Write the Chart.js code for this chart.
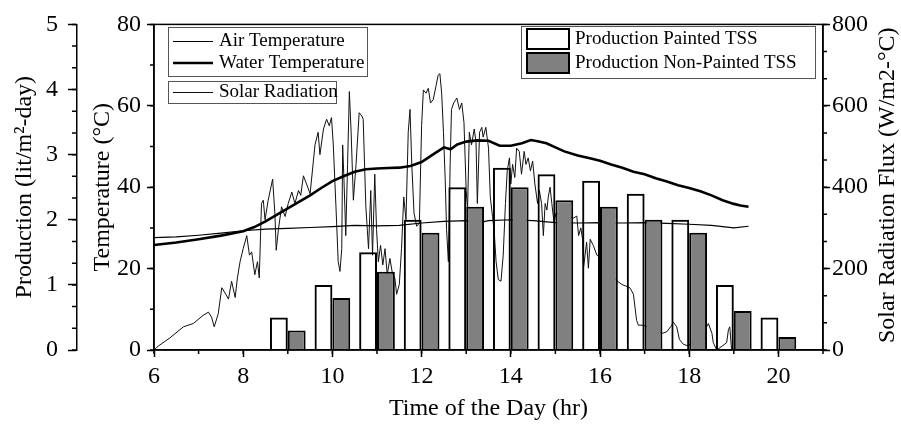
<!DOCTYPE html>
<html>
<head>
<meta charset="utf-8">
<script src="https://cdn.jsdelivr.net/npm/chart.js@4.4.1/dist/chart.umd.min.js"></script>
<style>
  html, body { margin: 0; padding: 0; background: #fff; }
</style>
</head>
<body>
<canvas id="grafico" width="901" height="427"></canvas>
<script>
// production bars (lit/m2-day), one pair per hour
const barHours = [9, 10, 11, 12, 13, 14, 15, 16, 17, 18, 19, 20];
const paintedTSS = [0.5, 1.0, 1.5, 2.0, 2.5, 2.8, 2.7, 2.6, 2.4, 2.0, 1.0, 0.5];
const nonPaintedTSS = [0.3, 0.8, 1.2, 1.8, 2.2, 2.5, 2.3, 2.2, 2.0, 1.8, 0.6, 0.2];

// temperatures (C)
const airHours = [6.0, 6.5, 7.0, 7.5, 8.0, 8.5, 9.0, 9.5, 10.0, 10.5, 11.0, 11.5, 12.0, 12.5, 13.0, 13.25,
  13.5, 14.0, 14.5, 15.0, 15.5, 16.0, 16.5, 17.0, 17.5, 18.0, 18.5, 19.0, 19.33];
const airTemp = [27.6, 27.8, 28.2, 28.7, 29.3, 29.7, 29.9, 30.1, 30.3, 30.6, 30.5, 30.6, 31.2, 31.6, 31.8, 31.2,
  31.8, 32.0, 31.8, 31.3, 31.2, 31.3, 31.2, 31.3, 31.1, 30.9, 30.6, 30.0, 30.4];

const waterHours = [6.0, 6.5, 7.0, 7.5, 8.0, 8.25, 8.5, 8.75, 9.0, 9.25, 9.5, 9.75, 10.0, 10.25, 10.5, 10.75,
  11.0, 11.25, 11.5, 11.75, 12.0, 12.25, 12.5, 12.65, 12.8, 13.0, 13.25, 13.5, 13.75, 14.0, 14.25, 14.45,
  14.6, 14.8, 15.0, 15.2, 15.5, 15.75, 16.0, 16.25, 16.5, 16.75, 17.0, 17.25, 17.5, 17.75, 18.0, 18.25,
  18.5, 18.75, 19.0, 19.15, 19.33];
const waterTemp = [25.8, 26.4, 27.2, 28.1, 29.2, 30.2, 31.6, 33.2, 34.8, 36.4, 38.0, 39.8, 41.5, 42.7, 43.8, 44.4,
  44.6, 44.7, 44.8, 45.2, 46.2, 48.0, 49.8, 49.3, 50.5, 51.2, 51.5, 51.4, 50.2, 50.2, 50.8, 51.6,
  51.3, 50.8, 49.8, 48.8, 47.8, 47.2, 46.5, 45.6, 44.8, 43.8, 43.2, 42.2, 41.4, 40.5, 39.8, 39.0,
  38.0, 36.8, 35.9, 35.5, 35.2];

// solar radiation flux
const solarHours = [6.0, 6.1, 6.36, 6.66, 6.88, 7.1, 7.22, 7.29, 7.35, 7.44, 7.52, 7.61, 7.67, 7.74, 7.82, 7.87,
  7.93, 8.0, 8.08, 8.14, 8.19, 8.26, 8.32, 8.36, 8.41, 8.45, 8.49, 8.56, 8.66, 8.71, 8.74, 8.79,
  8.86, 8.94, 9.01, 9.09, 9.16, 9.24, 9.29, 9.35, 9.42, 9.5, 9.61, 9.68, 9.72, 9.8, 9.87, 9.93,
  9.98, 10.02, 10.08, 10.13, 10.17, 10.21, 10.23, 10.26, 10.3, 10.34, 10.38, 10.42, 10.47, 10.53, 10.6, 10.66,
  10.69, 10.75, 10.81, 10.86, 10.9, 10.95, 10.99, 11.03, 11.08, 11.13, 11.18, 11.23, 11.29, 11.35, 11.4, 11.44,
  11.5, 11.55, 11.6, 11.65, 11.7, 11.74, 11.78, 11.83, 11.89, 11.95, 12.0, 12.04, 12.1, 12.15, 12.2, 12.26,
  12.32, 12.37, 12.41, 12.45, 12.49, 12.53, 12.56, 12.6, 12.64, 12.67, 12.72, 12.79, 12.85, 12.9, 12.95, 13.0,
  13.03, 13.07, 13.12, 13.18, 13.22, 13.25, 13.3, 13.35, 13.38, 13.44, 13.5, 13.54, 13.59, 13.63, 13.67, 13.72,
  13.78, 13.83, 13.88, 13.92, 13.97, 14.0, 14.04, 14.09, 14.13, 14.19, 14.24, 14.3, 14.34, 14.39, 14.44, 14.49,
  14.54, 14.6, 14.64, 14.69, 14.73, 14.77, 14.81, 14.84, 14.88, 14.92, 14.97, 15.01, 15.4, 15.48, 15.52, 15.57,
  15.61, 15.63, 15.7, 15.74, 15.78, 15.85, 15.93, 15.98, 16.39, 16.49, 16.67, 16.75, 16.82, 16.86, 16.97, 17.4,
  17.5, 17.61, 17.64, 17.72, 17.78, 17.87, 17.98, 18.39, 18.43, 18.51, 18.54, 18.62, 18.84, 18.88, 18.91, 18.95];
const solarFlux = [0, 10, 30, 57, 65, 85, 93, 81, 57, 89, 153, 137, 125, 169, 129, 177,
  217, 249, 281, 233, 241, 185, 217, 177, 360, 368, 320, 368, 420, 336, 245, 296,
  352, 328, 360, 388, 360, 392, 380, 428, 408, 384, 504, 535, 480, 543, 567, 551,
  571, 504, 352, 217, 193, 249, 504, 416, 281, 456, 635, 535, 368, 456, 583, 575,
  567, 352, 249, 392, 233, 432, 296, 217, 257, 209, 249, 185, 225, 185, 177, 137,
  161, 249, 376, 320, 535, 591, 456, 336, 304, 312, 551, 639, 631, 643, 607, 615,
  647, 675, 679, 631, 535, 416, 296, 217, 456, 591, 607, 619, 591, 607, 559, 392,
  344, 535, 504, 543, 511, 360, 535, 547, 523, 547, 496, 376, 328, 288, 217, 173,
  169, 233, 360, 440, 472, 408, 456, 424, 496, 488, 432, 488, 456, 472, 440, 464,
  408, 360, 392, 360, 281, 360, 344, 376, 400, 360, 312, 336, 324, 329, 281, 300,
  272, 201, 265, 201, 272, 257, 233, 229, 169, 161, 153, 137, 73, 61, 61, 41,
  45, 61, 69, 57, 26, 14, 10, 57, 65, 41, 18, 0, 18, 50, 57, 0];

// axis tick labels
const hourTicks = [6, 8, 10, 12, 14, 16, 18, 20];
const tempTicks = [0, 20, 40, 60, 80];
const prodTicks = [0, 1, 2, 3, 4, 5];
const solarTicks = [0, 200, 400, 600, 800];

const FONT = "'Liberation Serif', 'Times New Roman', serif";
Chart.defaults.font.family = FONT;
Chart.defaults.color = '#000';

const pts = (xs, ys) => xs.map((x, i) => ({ x: x, y: ys[i] }));
const fixTicks = list => s => { s.ticks = list.map(v => ({ value: v })); };

// short minor ticks between the labelled ones
const minorTicks = {
  id: 'minorTicks',
  afterDraw(chart) {
    const ctx = chart.ctx;
    const spec = [['x', 1, 4], ['yT', 10, 4], ['yP', 1 / 3, 5], ['yS', 200 / 3, 4]];
    ctx.save();
    ctx.strokeStyle = '#000';
    ctx.lineWidth = 1.5;
    spec.forEach(([id, step, len]) => {
      const s = chart.scales[id];
      const n = Math.round((s.max - s.min) / step);
      ctx.beginPath();
      for (let i = 0; i <= n; i++) {
        const p = s.getPixelForValue(s.min + i * step);
        if (s.isHorizontal()) { ctx.moveTo(p, s.top); ctx.lineTo(p, s.top + len); }
        else if (s.position === 'left') { ctx.moveTo(s.right, p); ctx.lineTo(s.right - len, p); }
        else { ctx.moveTo(s.left, p); ctx.lineTo(s.left + len, p); }
      }
      ctx.stroke();
    });
    const a = chart.chartArea;
    ctx.strokeRect(a.left, a.top, a.right - a.left, a.bottom - a.top);
    ctx.restore();
  }
};

// the three framed legends and the right axis title
const boxLegends = {
  id: 'boxLegends',
  afterDraw(chart) {
    const ctx = chart.ctx;
    const ds = chart.data.datasets;
    ctx.save();
    const frame = (x, y, w, h) => {
      ctx.fillStyle = '#fff';
      ctx.fillRect(x, y, w, h);
      ctx.strokeStyle = '#555';
      ctx.lineWidth = 1;
      ctx.strokeRect(x + 0.5, y + 0.5, w, h);
    };
    const label = (t, x, y) => {
      ctx.font = '19px ' + FONT;
      ctx.textAlign = 'left';
      ctx.textBaseline = 'middle';
      ctx.fillStyle = '#000';
      ctx.fillText(t, x, y);
    };
    const lineRow = (d, x, y) => {
      ctx.strokeStyle = d.borderColor;
      ctx.lineWidth = d.borderWidth;
      ctx.beginPath();
      ctx.moveTo(x, y);
      ctx.lineTo(x + 40, y);
      ctx.stroke();
      label(d.label, x + 46, y);
    };
    const boxRow = (d, x, y) => {
      ctx.fillStyle = d.backgroundColor;
      ctx.fillRect(x, y - 10, 42, 20);
      ctx.strokeStyle = '#000';
      ctx.lineWidth = 2;
      ctx.strokeRect(x, y - 10, 42, 20);
      label(d.label, x + 48, y);
    };
    frame(168, 27, 199, 49);
    lineRow(ds[0], 173, 41.5);
    lineRow(ds[1], 173, 63);
    frame(168, 81, 168, 22);
    lineRow(ds[2], 173, 92.5);
    frame(521, 26, 294, 52);
    boxRow({ backgroundColor: '#fff', label: ds[3].label }, 527, 39);
    boxRow(ds[4], 527, 63);

    const s = chart.scales.yS;
    ctx.translate(s.right - 13, (s.top + s.bottom) / 2 - 2);
    ctx.rotate(-Math.PI / 2);
    ctx.font = '24px ' + FONT;
    ctx.textAlign = 'center';
    ctx.textBaseline = 'middle';
    ctx.fillStyle = '#000';
    ctx.fillText('Solar Radiation Flux (W/m2-\u00B0C)', 0, 0);
    ctx.restore();
  }
};

const tickFont = { family: FONT, size: 24 };
const axisGrid = len => ({ drawOnChartArea: false, tickLength: len, tickColor: '#000', tickWidth: 1.5 });
const axisBorder = { color: '#000', width: 1.5 };

new Chart(document.getElementById('grafico'), {
  type: 'line',
  data: {
    datasets: [
      { type: 'line', label: 'Air Temperature', data: pts(airHours, airTemp), yAxisID: 'yT',
        borderColor: '#000', borderWidth: 1.2, pointRadius: 0, tension: 0, order: 1 },
      { type: 'line', label: 'Water Temperature', data: pts(waterHours, waterTemp), yAxisID: 'yT',
        borderColor: '#000', borderWidth: 2.6, pointRadius: 0, tension: 0, order: 1 },
      { type: 'line', label: 'Solar Radiation', data: pts(solarHours, solarFlux), yAxisID: 'yS',
        borderColor: '#111', borderWidth: 1, pointRadius: 0, tension: 0, order: 1 },
      { type: 'bar', label: 'Production Painted TSS', data: pts(barHours, paintedTSS), yAxisID: 'yP',
        backgroundColor: 'rgba(255,255,255,0)', borderColor: '#000', borderWidth: 2,
        categoryPercentage: 0.8, barPercentage: 1.0, order: 0 },
      { type: 'bar', label: 'Production Non-Painted TSS', data: pts(barHours, nonPaintedTSS), yAxisID: 'yP',
        backgroundColor: '#808080', borderColor: '#000', borderWidth: 2,
        categoryPercentage: 0.8, barPercentage: 1.0, order: 0 }
    ]
  },
  options: {
    responsive: false,
    animation: false,
    devicePixelRatio: 1,
    layout: { padding: { top: 16, left: 0, right: 0, bottom: 0 } },
    plugins: { legend: { display: false }, tooltip: { enabled: false } },
    scales: {
      x: {
        type: 'linear', position: 'bottom', min: 6, max: 21, offset: false,
        afterBuildTicks: fixTicks(hourTicks),
        afterFit: s => { s.height = 77; },
        ticks: { font: tickFont, color: '#000', padding: 5, maxRotation: 0, autoSkip: false },
        grid: Object.assign(axisGrid(7), { offset: false }),
        border: axisBorder,
        title: { display: true, text: 'Time of the Day (hr)', font: tickFont, color: '#000',
          padding: { top: 0, bottom: 4 } }
      },
      yT: {
        type: 'linear', position: 'left', min: 0, max: 80, weight: 0,
        afterBuildTicks: fixTicks(tempTicks),
        afterFit: s => { s.width = 77; },
        ticks: { font: tickFont, color: '#000', padding: 6 },
        grid: axisGrid(7),
        border: axisBorder,
        title: { display: true, text: 'Temperature (\u00B0C)', font: tickFont, color: '#000',
          padding: { top: 11, bottom: 0 } }
      },
      yP: {
        type: 'linear', position: 'left', min: 0, max: 5, weight: 1,
        afterBuildTicks: fixTicks(prodTicks),
        afterFit: s => { s.width = 77; },
        ticks: { font: tickFont, color: '#000', padding: 10 },
        grid: axisGrid(9),
        border: axisBorder,
        title: { display: true, text: 'Production (lit/m\u00B2-day)', font: tickFont, color: '#000',
          padding: { top: 10, bottom: 0 } }
      },
      yS: {
        type: 'linear', position: 'right', min: 0, max: 800,
        afterBuildTicks: fixTicks(solarTicks),
        afterFit: s => { s.width = 78; },
        ticks: { font: tickFont, color: '#000', padding: 2 },
        grid: axisGrid(7),
        border: axisBorder,
        title: { display: false }
      }
    }
  },
  plugins: [minorTicks, boxLegends]
});
</script>
</body>
</html>
